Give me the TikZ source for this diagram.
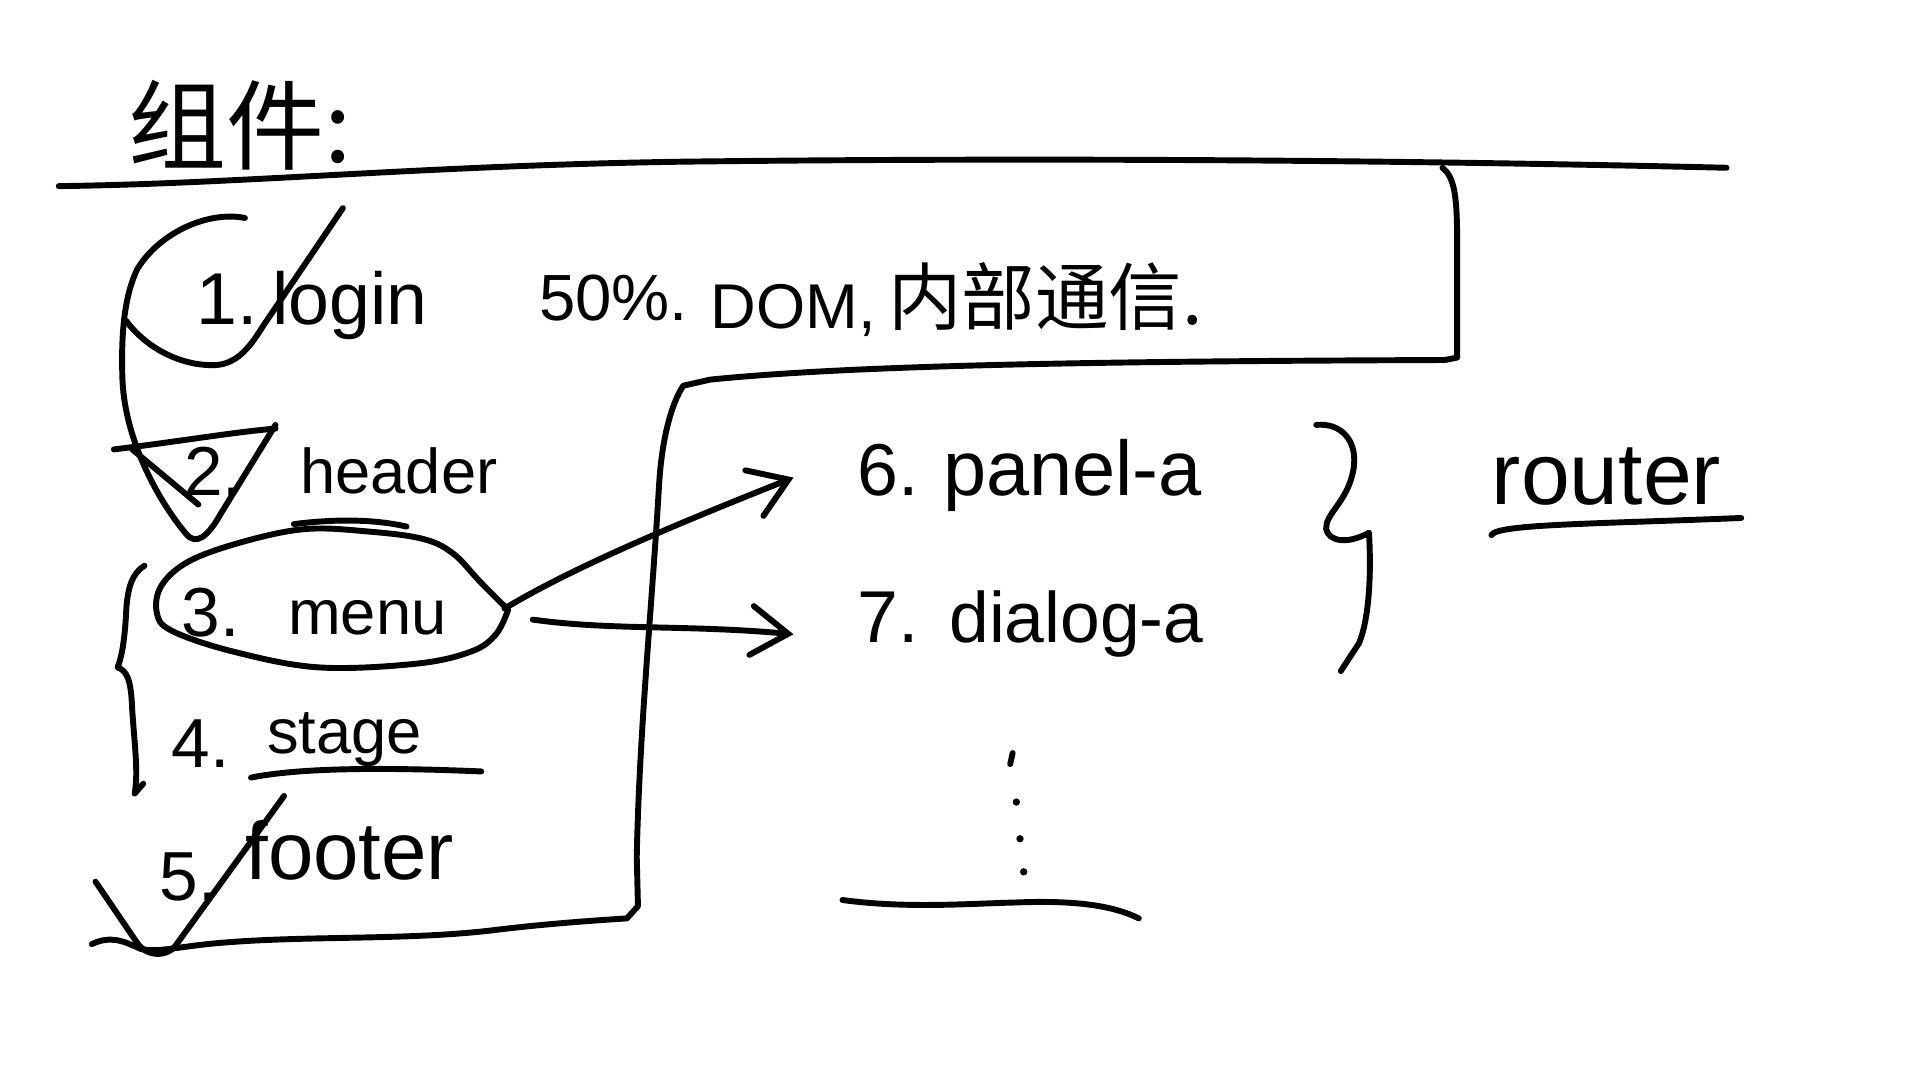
\documentclass[tikz,border=0pt]{standalone}
\usepackage{fontspec}
\setmainfont{Liberation Sans}
\newfontfamily\cjk{Noto Sans CJK SC}
\usetikzlibrary{arrows.meta}
\newcommand\hsz[1]{\fontsize{#1}{#1}\selectfont}
\begin{document}
\begin{tikzpicture}[x=0.6pt,y=-0.6pt,
  ink/.style={line width=2.9pt,line cap=round,line join=round},
  lbl/.style={inner sep=0pt,anchor=base west},
  barb/.style={-{Straight Barb[length=18pt,width=24pt,line cap=round]}}]
\useasboundingbox (0,0) rectangle (1568,882);
\fill[white] (0,0) rectangle (1568,882);

% ---- texts ----
\node[lbl,anchor=west] (title) at (105,102) {\cjk\hsz{48}组件:};
\node[lbl] (n1) at (160,265) {\hsz{36}1.};
\node[lbl] (login) at (222,265) {\hsz{36}login};
\node[lbl] (pct) at (440,262) {\hsz{32}50\%.};
\node[lbl] (dom) at (580,268) {\hsz{31}DOM,};
\node[lbl,anchor=west] (comm) at (725,242) {\cjk\hsz{36}内部通信.};
\node[lbl] (n2) at (150,405) {\hsz{34}2.};
\node[lbl] (header) at (245,403) {\hsz{31}header};
\node[lbl] (n3) at (148,520) {\hsz{34}3.};
\node[lbl] (menu) at (235,518) {\hsz{31}menu};
\node[lbl] (n4) at (140,627) {\hsz{34}4.};
\node[lbl] (stage) at (218,615) {\hsz{31}stage};
\node[lbl] (n5) at (130,735) {\hsz{34}5.};
\node[lbl] (footer) at (200,718) {\hsz{40}footer};
\node[lbl] (n6) at (700,405) {\hsz{36}6.};
\node[lbl] (panel) at (770,405) {\hsz{38}panel-a};
\node[lbl] (n7) at (700,525) {\hsz{36}7.};
\node[lbl] (dialog) at (775,525) {\hsz{35}dialog-a};
\node[lbl] (router) at (1218,412) {\hsz{43}router};

% ---- coordinates for connector ends ----
\coordinate (menuR) at (412,497);
\coordinate (menuR2) at (435,506);
\coordinate (panelIn) at (648,390);
\coordinate (dialogIn) at (648,518);

% ---- top line ----
\draw[ink] (48,152) .. controls (200,150) and (350,135) .. (560,132)
  .. controls (900,128) and (1200,132) .. (1410,137);

% ---- login box, component box and bottom line ----
\draw[ink] (1178,137) .. controls (1188,145) and (1190,160) .. (1190,200)
  -- (1190,292) -- (1180,294)
  .. controls (900,295) and (700,298) .. (580,310) -- (558,315)
  .. controls (548,330) and (540,360) .. (538,400)
  .. controls (532,500) and (522,600) .. (520,700) -- (521,740) -- (512,750)
  .. controls (480,752) and (440,755) .. (400,760)
  .. controls (330,768) and (250,764) .. (180,770)
  .. controls (145,773) and (130,778) .. (115,775)
  .. controls (100,768) and (90,764) .. (75,771);

% ---- login loop and check ----
\draw[ink] (200,178) .. controls (170,172) and (130,190) .. (112,220)
  .. controls (100,245) and (99,280) .. (100,310)
  .. controls (102,360) and (130,410) .. (152,436)
  .. controls (160,446) and (170,438) .. (180,420) -- (225,347);
\draw[ink] (103,262) .. controls (120,285) and (150,300) .. (178,298)
  .. controls (195,296) and (205,282) .. (215,266) -- (280,170);

% ---- header strokes ----
\draw[ink] (93,367) .. controls (150,360) and (190,353) .. (225,350);
\draw[ink] (108,367) -- (162,412);

% ---- menu blob ----
\draw[ink] plot[smooth, tension=0.6] coordinates {(415,498) (392,475) (370,452) (345,440) (300,434) (250,432) (200,442) (155,458) (132,478) (128,500) (140,515) (190,532) (260,545) (340,542) (385,532) (405,518) (415,498)};
\draw[ink] (240,428) .. controls (280,423) and (310,425) .. (332,430);

% ---- arrows ----
\draw[ink,barb] (menuR) .. controls (470,462) and (560,425) .. (panelIn);
\draw[ink,barb] (menuR2) .. controls (500,515) and (560,510) .. (dialogIn);

% ---- braces ----
\draw[ink] (118,462) .. controls (108,468) and (104,480) .. (103,500)
  .. controls (102,520) and (100,535) .. (96,545)
  .. controls (104,548) and (107,555) .. (108,580)
  .. controls (110,610) and (113,630) .. (110,648) -- (117,640);
\draw[ink] (1075,347) .. controls (1095,345) and (1110,360) .. (1105,385)
  .. controls (1100,410) and (1082,420) .. (1083,432)
  .. controls (1085,442) and (1100,445) .. (1118,435)
  .. controls (1120,470) and (1118,505) .. (1110,525) -- (1095,548);

% ---- underlines ----
\draw[ink] (205,635) .. controls (240,628) and (300,626) .. (393,630);
\draw[ink] (1218,437) .. controls (1222,428) and (1300,428) .. (1422,423);
\draw[ink] (688,735) .. controls (740,742) and (790,738) .. (830,737)
  .. controls (880,735) and (910,740) .. (930,750);

% ---- footer check ----
\draw[ink] (78,720) -- (112,770) .. controls (120,782) and (138,782) .. (145,770) -- (232,650);

% ---- vertical dots ----
\draw[ink] (827,615) -- (825,624);
\fill (830,655) circle (3);
\fill (833,685) circle (3);
\fill (836,712) circle (3);
\end{tikzpicture}
\end{document}
